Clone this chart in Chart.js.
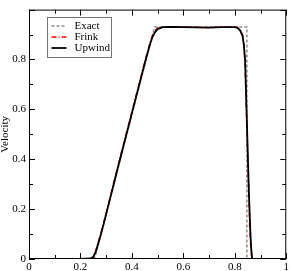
<!DOCTYPE html>
<html>
<head>
<meta charset="utf-8">
<script src="https://cdn.jsdelivr.net/npm/chart.js@4.4.1/dist/chart.umd.min.js"></script>
<style>
  body { margin: 0; background: #fff; }
  #wrap { width: 291px; height: 271px; }
</style>
</head>
<body>
<div id="wrap"><canvas id="myChart"></canvas></div>
<script>
// Exact solution
const exactX = [0, 0.255, 0.488, 0.847, 0.847, 1];
const exactY = [0, 0, 0.93, 0.93, 0, 0];

// Frink scheme
const frinkX = [0, 0.2, 0.24, 0.25, 0.26, 0.27, 0.28, 0.30, 0.35, 0.40, 0.45, 0.47, 0.48, 0.49, 0.50, 0.52, 0.55, 0.60, 0.65, 0.70, 0.75, 0.80, 0.81, 0.82, 0.83, 0.835, 0.84, 0.845, 0.85, 0.855, 0.858, 0.862, 0.867, 1];
const frinkY = [0, 0, 0.001, 0.01, 0.035, 0.07, 0.105, 0.185, 0.39, 0.59, 0.79, 0.865, 0.895, 0.915, 0.925, 0.93, 0.931, 0.93, 0.929, 0.928, 0.93, 0.93, 0.928, 0.92, 0.9, 0.86, 0.78, 0.6, 0.42, 0.25, 0.12, 0.05, 0, 0];

// Upwind scheme
const upwindX = [0, 0.2, 0.24, 0.25, 0.26, 0.27, 0.28, 0.30, 0.35, 0.40, 0.45, 0.47, 0.48, 0.49, 0.50, 0.52, 0.55, 0.60, 0.65, 0.70, 0.75, 0.80, 0.81, 0.82, 0.83, 0.835, 0.84, 0.845, 0.85, 0.855, 0.86, 0.864, 0.867, 1];
const upwindY = [0, 0, 0.002, 0.008, 0.03, 0.065, 0.1, 0.18, 0.385, 0.585, 0.785, 0.86, 0.89, 0.91, 0.922, 0.93, 0.931, 0.93, 0.929, 0.928, 0.93, 0.93, 0.927, 0.918, 0.895, 0.86, 0.8, 0.62, 0.44, 0.26, 0.12, 0.04, 0, 0];

const toPoints = (xs, ys) => xs.map((x, i) => ({ x: x, y: ys[i] }));

// frame, inward ticks on all sides, and the boxed legend
const framePlugin = {
  id: 'frame',
  afterDraw(chart) {
    const ctx = chart.ctx;
    const a = chart.chartArea;
    const xs = chart.scales.x;
    const ys = chart.scales.y;
    ctx.save();
    ctx.strokeStyle = '#000';
    ctx.lineWidth = 1;
    ctx.strokeRect(a.left + 0.5, a.top + 0.5, a.right - a.left - 1, a.bottom - a.top - 1);

    ctx.beginPath();
    for (let v = 0; v <= 1.0001; v += 0.1) {
      const major = Math.round(v * 10) % 2 === 0;
      const len = major ? 6 : 4;
      const px = Math.round(xs.getPixelForValue(v)) + 0.5;
      ctx.moveTo(px, a.bottom); ctx.lineTo(px, a.bottom - len);
      ctx.moveTo(px, a.top); ctx.lineTo(px, a.top + len);
      const py = Math.round(ys.getPixelForValue(v)) + 0.5;
      ctx.moveTo(a.left, py); ctx.lineTo(a.left + len, py);
      ctx.moveTo(a.right, py); ctx.lineTo(a.right - len, py);
    }
    ctx.stroke();

    // legend box
    const bx = 47.5, by = 17.5, bw = 64, bh = 40;
    ctx.fillStyle = '#fff';
    ctx.fillRect(bx, by, bw, bh);
    ctx.strokeStyle = '#777';
    ctx.strokeRect(bx, by, bw, bh);
    ctx.font = '11px "Liberation Serif"';
    ctx.textBaseline = 'middle';
    ctx.fillStyle = '#000';
    const order = [0, 1, 2];
    order.forEach((di, row) => {
      const ds = chart.data.datasets[di];
      const y = by + 8.5 + row * 11;
      ctx.beginPath();
      ctx.strokeStyle = ds.borderColor;
      ctx.lineWidth = ds.borderWidth;
      ctx.setLineDash(ds.borderDash || []);
      ctx.moveTo(bx + 4, y);
      ctx.lineTo(bx + 19, y);
      ctx.stroke();
      ctx.setLineDash([]);
      ctx.fillText(ds.label, bx + 27, y);
    });
    ctx.restore();
  }
};

const ctx = document.getElementById('myChart');
new Chart(ctx, {
  type: 'line',
  data: {
    datasets: [
      {
        label: 'Exact',
        data: toPoints(exactX, exactY),
        borderColor: '#8c8c8c',
        borderWidth: 1.5,
        borderDash: [3, 2],
        pointRadius: 0,
        tension: 0,
        order: 2,
      },
      {
        label: 'Frink',
        data: toPoints(frinkX, frinkY),
        borderColor: '#ff0000',
        borderWidth: 1.5,
        borderDash: [5, 2, 1, 2],
        pointRadius: 0,
        tension: 0,
        order: 1,
      },
      {
        label: 'Upwind',
        data: toPoints(upwindX, upwindY),
        borderColor: '#000000',
        borderWidth: 1.8,
        pointRadius: 0,
        tension: 0,
        order: 0,
      },
    ],
  },
  options: {
    responsive: true,
    maintainAspectRatio: false,
    devicePixelRatio: 1,
    animation: false,
    layout: { padding: { top: 0, right: 2, left: 0, bottom: 0 } },
    plugins: {
      legend: { display: false },
      tooltip: { enabled: false },
    },
    scales: {
      x: {
        type: 'linear',
        min: 0,
        max: 1,
        grid: { display: false, drawTicks: false, tickLength: 0 },
        border: { display: false },
        ticks: {
          stepSize: 0.2,
          autoSkip: false,
          maxRotation: 0,
          padding: 2,
          color: '#000',
          font: { family: 'Liberation Serif', size: 11 },
          callback: (v) => (Math.round(v * 10) / 10).toString(),
        },
        afterFit: (scale) => { scale.height = 12; },
      },
      y: {
        type: 'linear',
        min: 0,
        max: 1,
        grid: { display: false, drawTicks: false, tickLength: 0 },
        border: { display: false },
        title: {
          display: true,
          text: 'Velocity',
          color: '#000',
          padding: { top: 0, bottom: 0 },
          font: { family: 'Liberation Serif', size: 11, lineHeight: 1 },
        },
        ticks: {
          stepSize: 0.2,
          autoSkip: false,
          padding: 3,
          color: '#000',
          font: { family: 'Liberation Serif', size: 11 },
          callback: (v) => (v >= 1 ? '' : (Math.round(v * 10) / 10).toString()),
        },
        afterFit: (scale) => { scale.width = 29; },
      },
    },
  },
  plugins: [framePlugin],
});
</script>
</body>
</html>
